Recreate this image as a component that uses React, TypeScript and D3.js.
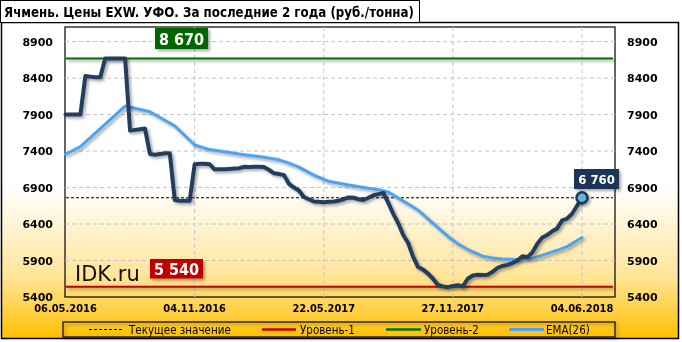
import React from 'react';
import * as d3 from 'd3';

const title = 'Ячмень. Цены EXW. УФО. За последние 2 года (руб./тонна)';
const dateLabels = ['06.05.2016', '04.11.2016', '22.05.2017', '27.11.2017', '04.06.2018'];
const dateIdx = [0, 26, 52, 78, 104];
const yTicks = [5400, 5900, 6400, 6900, 7400, 7900, 8400, 8900];

const price = [
  7900, 7900, 7900, 7900,
  8430, 8420, 8410, 8410,
  8670, 8670, 8670, 8670, 8670,
  7680, 7690, 7700, 7710,
  7360, 7350, 7360, 7370, 7370,
  6730, 6720, 6720, 6720,
  7220, 7225, 7225, 7220,
  7150, 7150, 7150, 7155, 7160, 7165,
  7185, 7180, 7185, 7185, 7180,
  7140, 7095, 7085, 7070,
  6950, 6900, 6860, 6770, 6740,
  6710, 6705, 6700, 6705, 6710,
  6720, 6740, 6765, 6760, 6740, 6730, 6760, 6795, 6810, 6825,
  6690, 6540, 6410, 6250, 6140, 5950, 5810, 5775, 5720, 5650,
  5565, 5545, 5535, 5550, 5560, 5545,
  5650, 5695, 5705, 5700, 5705, 5745, 5800, 5825, 5840, 5865,
  5900, 5960, 5945, 6010, 6130, 6215, 6250, 6300, 6340, 6450,
  6475, 6540, 6650, 6760,
];

const emaIdx = [0, 3, 12, 17, 22, 26, 29, 33, 36, 40, 43, 45, 47, 50, 53, 57, 61, 63, 65, 67, 69, 71, 74, 77, 79, 81, 84, 86, 88, 91, 94, 97, 99, 101, 104];
const emaVal = [7356, 7460, 8017, 7939, 7743, 7483, 7420, 7380, 7350, 7315, 7280, 7235, 7180, 7070, 6985, 6935, 6890, 6870, 6840, 6755, 6675, 6590, 6410, 6230, 6130, 6050, 5960, 5935, 5920, 5915, 5930, 5995, 6040, 6090, 6215];

const level1 = 5540;
const level2 = 8670;
const current = 6760;

const legendItems = ['Текущее значение', 'Уровень-1', 'Уровень-2', 'EMA(26)'];

const W = 682, H = 342;
const PL = 65, PR = 615, PT = 27, PB = 297;

export default function App() {
  const x = d3.scaleLinear().domain([0, 104]).range([65.5, 582]);
  const y = d3.scaleLinear().domain([5400, 9100]).range([PB, PT]);

  const priceLine = d3.line<number>().x((_, i) => x(i)).y((d) => y(d)).curve(d3.curveLinear)(price) || '';
  const emaPts = emaIdx.map((d, i) => [d, emaVal[i]] as [number, number]);
  const emaLine = d3.line<[number, number]>().x((d) => x(d[0])).y((d) => y(d[1])).curve(d3.curveLinear)(emaPts) || '';

  const fmt = (v: number) => d3.format(',')(v).replace(/,/g, ' ');
  const lastX = x(price.length - 1);
  const lastY = y(price[price.length - 1]);

  const boldCond = "'DejaVu Sans Condensed', 'DejaVu Sans', sans-serif";

  const legendSamples = [
    { x1: 89, x2: 122, color: '#000', dash: '3,2', w: 1 },
    { x1: 262, x2: 296, color: '#C00000', dash: undefined, w: 2.5 },
    { x1: 386, x2: 421, color: '#007000', dash: undefined, w: 2.5 },
    { x1: 509, x2: 544, color: '#4DA3F2', dash: undefined, w: 3 },
  ];
  const legendTextX = [129, 300, 424, 546];

  return (
    <svg width={W} height={H} style={{ position: 'fixed', left: 0, top: 0 }} xmlns="http://www.w3.org/2000/svg">
      <defs>
        <linearGradient id="bg" x1="0" y1="0" x2="0" y2="1">
          <stop offset="0" stopColor="#FFFFFF" />
          <stop offset="0.52" stopColor="#FFFFFF" />
          <stop offset="0.8" stopColor="#FFE59A" />
          <stop offset="1" stopColor="#FFC000" />
        </linearGradient>
        <filter id="sh" filterUnits="userSpaceOnUse" x={0} y={0} width={W} height={H}>
          <feGaussianBlur in="SourceAlpha" stdDeviation="1.5" />
          <feOffset dx="2" dy="2" result="ob" />
          <feComponentTransfer><feFuncA type="linear" slope="0.35" /></feComponentTransfer>
          <feMerge><feMergeNode /><feMergeNode in="SourceGraphic" /></feMerge>
        </filter>
      </defs>

      <rect x={1.5} y={22.5} width={677} height={316} fill="url(#bg)" stroke="#000" strokeWidth={1.5} />

      {/* title */}
      <rect x={0.5} y={0.5} width={419} height={22} fill="#FFFFFF" stroke="#000" strokeWidth={1} />
      <text x={4} y={17} fontFamily={boldCond} fontWeight="bold" fontSize={14.5} fill="#000" textLength={410} lengthAdjust="spacingAndGlyphs">{title}</text>

      {/* plot frame */}
      <rect x={PL} y={PT} width={PR - PL} height={PB - PT} fill="none" stroke="#000" strokeWidth={1.2} />

      {/* grid */}
      {yTicks.filter((t) => t > 5400).map((t) => (
        <line key={'gy' + t} x1={PL} x2={PR} y1={y(t)} y2={y(t)} stroke="#C4C4C4" strokeWidth={1} strokeDasharray="4,3" />
      ))}
      {dateIdx.filter((d) => d > 0).map((d) => (
        <line key={'gx' + d} x1={x(d)} x2={x(d)} y1={PT} y2={PB} stroke="#C4C4C4" strokeWidth={1} strokeDasharray="4,3" />
      ))}

      {/* y labels */}
      {yTicks.map((t) => (
        <g key={'yl' + t}>
          <text x={53} y={y(t) + 4} textAnchor="end" fontFamily="'DejaVu Sans', sans-serif" fontWeight="bold" fontSize={11} fill="#000">{t}</text>
          <text x={627} y={y(t) + 4} textAnchor="start" fontFamily="'DejaVu Sans', sans-serif" fontWeight="bold" fontSize={11} fill="#000">{t}</text>
        </g>
      ))}
      {/* x labels */}
      {dateIdx.map((d, i) => (
        <text key={'xl' + d} x={x(d)} y={312} textAnchor="middle" fontFamily={boldCond} fontWeight="bold" fontSize={11} fill="#000">{dateLabels[i]}</text>
      ))}

      {/* levels */}
      <line x1={PL + 1} x2={PR - 2} y1={y(level2)} y2={y(level2)} stroke="#007000" strokeWidth={2} filter="url(#sh)" />
      <line x1={PL + 1} x2={PR - 2} y1={y(level1)} y2={y(level1)} stroke="#C00000" strokeWidth={2} filter="url(#sh)" />
      <line x1={PL + 1} x2={PR - 2} y1={y(current)} y2={y(current)} stroke="#000" strokeWidth={1} strokeDasharray="3,2" />

      {/* EMA */}
      <path d={emaLine} fill="none" stroke="#4DA3F2" strokeWidth={3} strokeLinejoin="round" strokeLinecap="round" filter="url(#sh)" />
      {/* price */}
      <path d={priceLine} fill="none" stroke="#233E5E" strokeWidth={4} strokeLinejoin="round" strokeLinecap="round" filter="url(#sh)" />
      <circle cx={lastX} cy={lastY} r={5.5} fill="#5CB8DA" stroke="#1B3556" strokeWidth={2.5} filter="url(#sh)" />

      {/* level labels */}
      <rect x={155} y={28} width={53} height={21} fill="#006600" filter="url(#sh)" />
      <text x={181.5} y={44.5} textAnchor="middle" fontFamily={boldCond} fontWeight="bold" fontSize={16} fill="#FFFFFF">{fmt(level2)}</text>

      <rect x={150} y={259} width={53} height={19.5} fill="#C00000" filter="url(#sh)" />
      <text x={176.5} y={275} textAnchor="middle" fontFamily={boldCond} fontWeight="bold" fontSize={16} fill="#FFFFFF">{fmt(level1)}</text>

      <text x={75} y={281} fontFamily="'DejaVu Sans', sans-serif" fontSize={21} fill="#111">IDK.ru</text>

      <rect x={574} y={169} width={45} height={20} fill="#1C3656" filter="url(#sh)" />
      <text x={596.5} y={184} textAnchor="middle" fontFamily={boldCond} fontWeight="bold" fontSize={13} fill="#FFFFFF">{fmt(current)}</text>

      {/* legend */}
      <rect x={63} y={322} width={552} height={15} fill="none" stroke="#000" strokeWidth={1.2} filter="url(#sh)" />
      {legendSamples.map((s, i) => (
        <g key={'lg' + i}>
          <line x1={s.x1} x2={s.x2} y1={329.5} y2={329.5} stroke={s.color} strokeWidth={s.w} strokeDasharray={s.dash} />
          <text x={legendTextX[i]} y={333.5} fontFamily={boldCond} fontSize={11.5} fill="#000">{legendItems[i]}</text>
        </g>
      ))}
    </svg>
  );
}
